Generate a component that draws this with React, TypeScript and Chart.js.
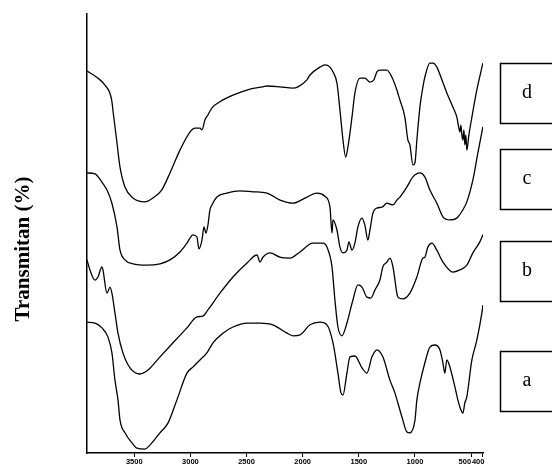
import React, { useEffect, useRef } from "react";
import { Chart, registerables } from "chart.js";

Chart.register(...registerables);

// ---- axis / labels ----
const xTickValues = [3500, 3000, 2500, 2000, 1500, 1000, 500, 400];
const xMin = 394;
const xMax = 3921;
const yTitle = "Transmitan (%)";
const seriesNames = ["d", "c", "b", "a"];
const seriesLabelLevels = [82, 62.5, 41.5, 16.4];

// ---- spectrum d ----
const dWave = [3921,3835,3761,3701,3687,3657,3627,3583,3512,3405,3334,3256,3182,3093,3004,2959,2915,2897,2870,2844,2808,2737,2621,2469,2354,2318,2202,2087,2042,1962,1935,1846,1802,1757,1730,1695,1668,1641,1617,1597,1561,1535,1490,1446,1401,1366,1339,1312,1250,1205,1161,1134,1090,1063,1045,1018,1000,983,956,938,912,867,840,805,760,716,662,627,609,600,591,582,573,564,556,547,538,520,493,449,395];
const dT = [87.0,85.6,83.8,80.4,77.4,71.3,65.1,60.6,58.1,57.2,58.1,59.9,63.8,69.0,73.1,74.0,74.0,73.6,75.9,77.0,78.6,80.0,81.5,82.9,83.4,83.6,83.4,83.1,83.4,85.0,86.1,87.9,88.4,87.9,86.8,84.3,78.1,71.3,67.4,69.7,76.5,82.0,85.4,85.4,84.5,85.0,86.8,87.2,87.2,85.6,82.7,80.4,76.5,71.3,70.2,65.6,66.1,71.3,78.8,82.0,85.6,88.8,88.8,87.9,85.0,82.0,78.8,76.5,74.0,73.1,74.7,72.4,71.3,73.6,70.2,72.4,69.0,72.4,76.5,82.7,88.8];

// ---- spectrum c ----
const cWave = [3921,3850,3788,3743,3699,3654,3627,3583,3512,3387,3271,3182,3093,3031,2977,2942,2924,2897,2879,2861,2844,2826,2808,2764,2674,2559,2443,2318,2202,2087,1962,1873,1802,1757,1739,1730,1695,1668,1641,1606,1588,1561,1535,1508,1472,1446,1419,1401,1374,1339,1294,1250,1196,1161,1134,1072,1018,956,912,867,805,751,689,627,573,538,484,440,395];
const cT = [63.8,63.6,61.7,59.9,56.9,51.5,46.2,44.0,43.1,42.8,43.1,44.0,45.8,47.8,49.7,49.2,46.5,48.5,51.5,50.1,51.9,55.4,56.5,58.3,59.2,59.7,59.5,59.2,57.6,56.9,58.3,59.2,58.5,56.0,50.1,53.1,50.8,46.9,45.6,46.2,48.1,46.2,47.8,51.5,53.5,51.9,48.5,50.8,54.7,55.8,56.0,56.9,56.5,57.6,58.3,60.6,62.9,63.8,62.9,59.9,56.9,53.8,53.1,53.5,55.4,57.2,62.2,68.3,74.3];

// ---- spectrum b ----
const bWave = [3921,3895,3850,3823,3788,3779,3743,3716,3699,3672,3645,3601,3538,3449,3378,3271,3155,3031,2942,2888,2844,2737,2621,2496,2407,2380,2354,2291,2202,2113,2024,1909,1819,1784,1739,1713,1686,1650,1606,1552,1508,1472,1428,1392,1357,1312,1286,1250,1223,1196,1161,1152,1107,1045,983,929,912,885,849,805,751,662,600,538,484,422,395];
const bT = [44.0,41.7,39.4,40.1,42.4,41.7,36.4,37.8,36.4,31.9,27.3,22.8,19.4,18.0,18.9,21.9,25.1,28.5,31.0,31.2,32.6,36.4,40.1,43.3,45.1,43.5,44.6,45.6,44.6,44.4,45.8,47.8,47.8,46.9,42.4,34.9,28.7,26.7,29.6,34.9,38.3,37.8,35.5,35.3,37.1,39.4,42.4,43.5,44.4,42.4,36.4,35.5,35.1,36.4,40.1,44.4,44.6,46.9,47.8,46.2,43.5,41.2,41.7,42.8,45.6,48.1,49.7];

// ---- spectrum a ----
const aWave = [3921,3850,3788,3734,3699,3672,3645,3627,3583,3520,3476,3405,3360,3271,3200,3120,3031,2977,2915,2853,2799,2710,2621,2496,2380,2265,2140,2087,2024,1935,1846,1784,1730,1686,1659,1641,1606,1579,1535,1472,1428,1383,1339,1286,1223,1179,1134,1116,1072,1045,1000,983,956,912,867,823,778,751,734,716,689,644,618,600,573,556,538,493,449,404,395];
const aT = [29.8,29.6,28.5,26.4,22.8,16.6,12.1,7.5,4.6,2.3,1.1,0.9,1.8,4.6,6.8,12.1,18.2,19.6,21.2,22.8,25.1,27.3,28.7,29.6,29.6,29.2,27.3,26.7,26.9,29.2,29.8,29.2,25.1,18.2,13.7,13.2,18.2,21.9,22.1,19.4,18.2,21.9,23.5,21.9,16.6,13.7,9.8,8.2,4.8,4.6,7.5,12.1,15.9,20.5,24.1,24.6,23.5,20.5,18.2,21.2,19.6,15.0,12.1,10.5,9.1,11.4,12.8,21.2,25.7,31.9,33.7];

const seriesWaves = [dWave, cWave, bWave, aWave];
const seriesValues = [dT, cT, bT, aT];

const overlayPlugin = {
  id: "overlayText",
  afterDraw(chart: any) {
    const ctx = chart.ctx as CanvasRenderingContext2D;
    const yScale = chart.scales.y;
    ctx.save();
    ctx.fillStyle = "#000";
    ctx.translate(24, 249);
    ctx.rotate(-Math.PI / 2);
    ctx.font = 'bold 21px "Liberation Serif", "Times New Roman", serif';
    ctx.textAlign = "center";
    ctx.textBaseline = "middle";
    ctx.fillText(yTitle, 0, 0);
    ctx.restore();

    ctx.save();
    ctx.strokeStyle = "#000";
    ctx.lineWidth = 1.5;
    ctx.fillStyle = "#000";
    ctx.font = '20px "Liberation Serif", "Times New Roman", serif';
    ctx.textAlign = "center";
    ctx.textBaseline = "middle";
    seriesNames.forEach((name, i) => {
      const cy = yScale.getPixelForValue(seriesLabelLevels[i]);
      const top = Math.round(cy - 30) + 0.5;
      ctx.strokeRect(500.5, top, 70, 60);
      ctx.fillText(name, 527, cy);
    });
    ctx.restore();
  },
};

export default function App() {
  const ref = useRef<HTMLCanvasElement>(null);
  useEffect(() => {
    if (!ref.current) return;
    const chart = new Chart(ref.current, {
      type: "line",
      data: {
        datasets: seriesNames.map((name, i) => ({
          label: name,
          data: seriesWaves[i].map((w, j) => ({ x: w, y: seriesValues[i][j] })),
          borderColor: "#000",
          borderWidth: 1.3,
          pointRadius: 0,
          fill: false,
          cubicInterpolationMode: "monotone" as const,
        })),
      },
      options: {
        responsive: false,
        animation: false,
        devicePixelRatio: 1,
        layout: { padding: { left: 87, right: 69, top: 14, bottom: 0 } },
        plugins: { legend: { display: false }, tooltip: { enabled: false } },
        scales: {
          x: {
            type: "linear",
            reverse: true,
            min: xMin,
            max: xMax,
            afterBuildTicks: (scale: any) => {
              scale.ticks = xTickValues.map((v) => ({ value: v }));
            },
            afterFit: (scale: any) => {
              scale.height = 12;
            },
            grid: { display: true, drawOnChartArea: false, drawTicks: true, tickLength: 4, color: "#000", lineWidth: 1 },
            border: { display: true, color: "#000", width: 1.5 },
            ticks: {
              autoSkip: false,
              maxRotation: 0,
              padding: 0,
              color: "#000",
              font: { family: '"Liberation Sans", Arial, sans-serif', size: 7.5, weight: "bold" },
              callback: (v: any) => (v === 500 ? "500      " : v === 400 ? "400    " : String(v)),
            },
          },
          y: {
            type: "linear",
            min: 0,
            max: 100,
            afterFit: (scale: any) => {
              scale.width = 0;
            },
            grid: { display: false },
            border: { display: true, color: "#000", width: 1.5 },
            ticks: { display: false },
          },
        },
      },
      plugins: [overlayPlugin],
    });
    return () => chart.destroy();
  }, []);
  return (
    <div style={{ position: "absolute", left: 0, top: 0, width: 552, height: 465, background: "#fff" }}>
      <canvas ref={ref} width={552} height={465} />
    </div>
  );
}
